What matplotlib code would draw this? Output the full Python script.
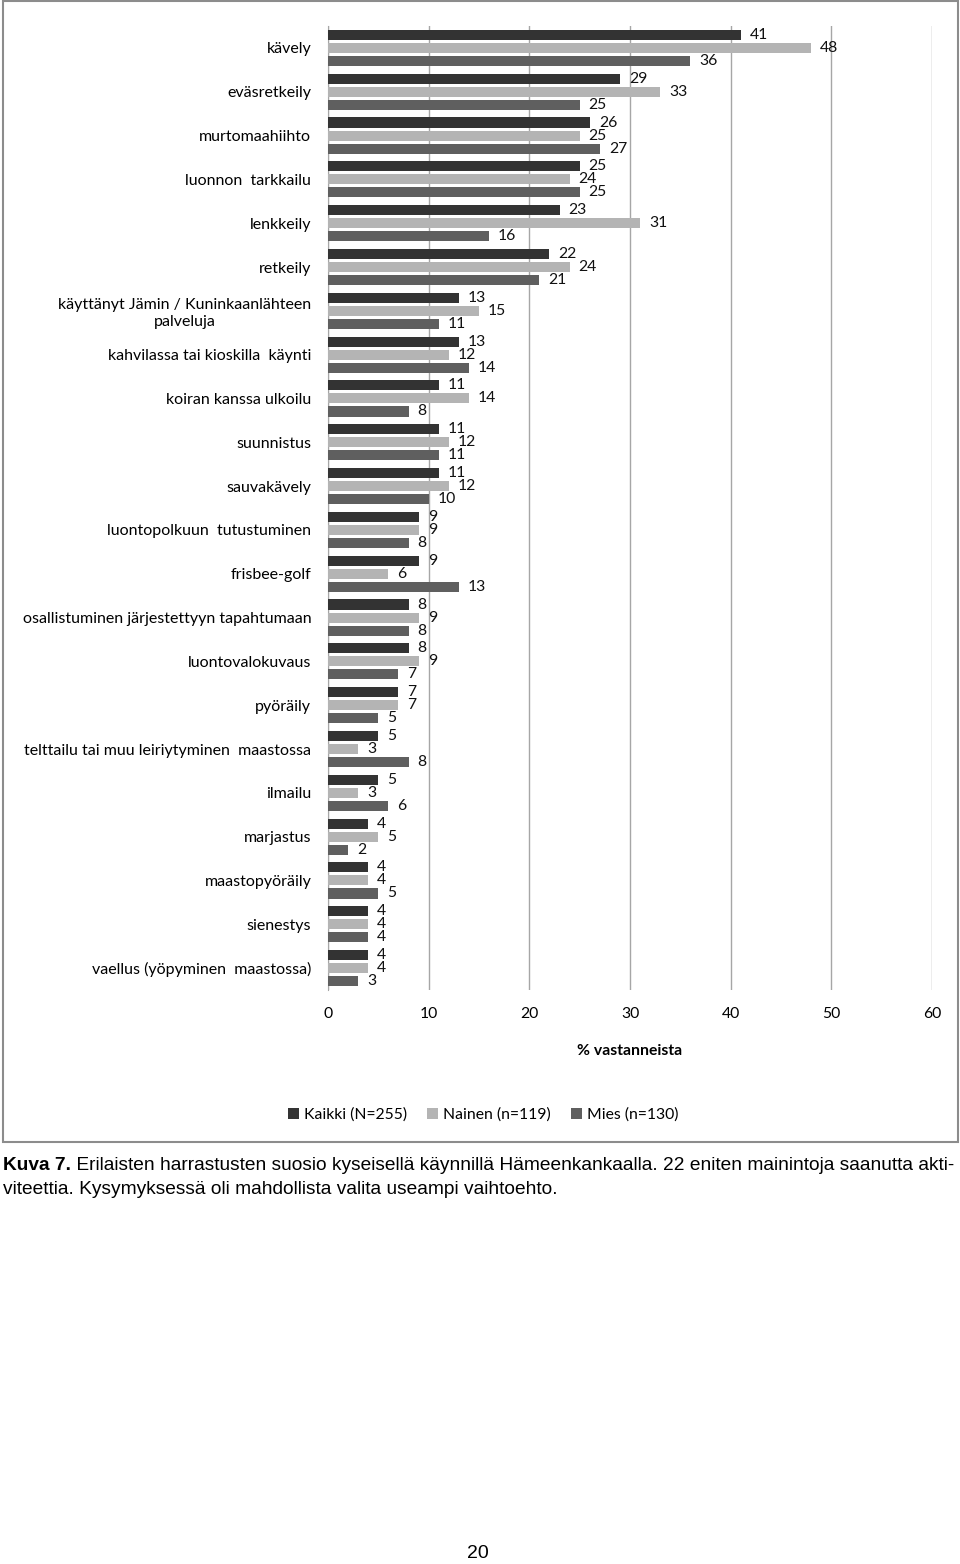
import matplotlib.pyplot as plt
import numpy as np
from matplotlib.patches import Rectangle

aktiviteetit = ['kävely', 'eväsretkeily', 'murtomaahiihto', 'luonnon  tarkkailu', 'lenkkeily', 'retkeily',
                'käyttänyt Jämin / Kuninkaanlähteen\npalveluja', 'kahvilassa tai kioskilla  käynti',
                'koiran kanssa ulkoilu', 'suunnistus', 'sauvakävely', 'luontopolkuun  tutustuminen',
                'frisbee-golf', 'osallistuminen järjestettyyn tapahtumaan', 'luontovalokuvaus', 'pyöräily',
                'telttailu tai muu leiriytyminen  maastossa', 'ilmailu', 'marjastus', 'maastopyöräily',
                'sienestys', 'vaellus (yöpyminen  maastossa)']
kaikki = [41, 29, 26, 25, 23, 22, 13, 13, 11, 11, 11, 9, 9, 8, 8, 7, 5, 5, 4, 4, 4, 4]
nainen = [48, 33, 25, 24, 31, 24, 15, 12, 14, 12, 12, 9, 6, 9, 9, 7, 3, 3, 5, 4, 4, 4]
mies = [36, 25, 27, 25, 16, 21, 11, 14, 8, 11, 10, 8, 13, 8, 7, 5, 8, 6, 2, 5, 4, 3]
sarjat = ['Kaikki (N=255)', 'Nainen (n=119)', 'Mies (n=130)']
x_ticks = [0, 10, 20, 30, 40, 50, 60]

varit = ['#333333', '#b4b4b4', '#5f5f5f']
fontti = ['Lato', 'DejaVu Sans']

fig = plt.figure(figsize=(9.6, 15.64), dpi=100)
ax = fig.add_axes([328/960, 1-990/1564, (932-328)/960, (990-26)/1564])

y = np.arange(len(aktiviteetit))
siirto = 0.297
korkeus = 0.23
for i, (arvot, vari) in enumerate(zip([kaikki, nainen, mies], varit)):
    pos = y + (i-1)*siirto
    ax.barh(pos, arvot, height=korkeus, color=vari, label=sarjat[i], zorder=3)
    for p, v in zip(pos, arvot):
        ax.annotate(str(v), (v, p), xytext=(6.5, 0), textcoords='offset points',
                    va='center', ha='left', fontsize=11.3, family=fontti, color='#111111')

ax.set_ylim(len(aktiviteetit)-0.5, -0.5)
ax.set_xlim(0, 60)
ax.set_xticks(x_ticks)
ax.set_yticks(y)
ax.set_yticklabels(aktiviteetit, fontsize=11.5, family=fontti, multialignment='center')
ax.tick_params(axis='y', length=0, pad=12)
ax.tick_params(axis='x', length=0, pad=12, labelsize=11.3)
for t in ax.get_xticklabels():
    t.set_family(fontti)
ax.grid(axis='x', color='#a6a6a6', lw=1, zorder=0)
for s in ['top', 'right', 'bottom']:
    ax.spines[s].set_visible(False)
ax.spines['left'].set_color('#a6a6a6')
ax.set_xlabel('% vastanneista', fontsize=11.3, fontweight='bold', family=fontti, labelpad=17)

kahvat, nimet = ax.get_legend_handles_labels()
fig.legend(kahvat, nimet, loc='center', bbox_to_anchor=(483/960, 1-1115/1564), ncol=3, frameon=False,
           prop={'family': fontti, 'size': 11.3}, handlelength=0.7, handleheight=0.7, columnspacing=1.3,
           handletextpad=0.3)

fig.patches.append(Rectangle((3/960, 1-1142/1564), 955/960, 1141/1564, transform=fig.transFigure,
                             fill=False, edgecolor='#8c8c8c', lw=1.5))

kuva = fig.text(3/960, 1-1165/1564, 'Kuva 7.', fontsize=13.75, fontweight='bold', family='Liberation Sans',
                va='center', ha='left')
ax.annotate(' Erilaisten harrastusten suosio kyseisellä käynnillä Hämeenkankaalla. 22 eniten mainintoja saanutta akti-',
            xy=(1, 0.5), xycoords=kuva, va='center', ha='left', fontsize=13.75, family='Liberation Sans',
            annotation_clip=False)
fig.text(3/960, 1-1189/1564, 'viteettia. Kysymyksessä oli mahdollista valita useampi vaihtoehto.',
         fontsize=13.75, family='Liberation Sans', va='center', ha='left')
fig.text(478/960, 1-1553/1564, '20', fontsize=14, family='Liberation Sans', va='center', ha='center')

plt.savefig('out.png', dpi=100)
